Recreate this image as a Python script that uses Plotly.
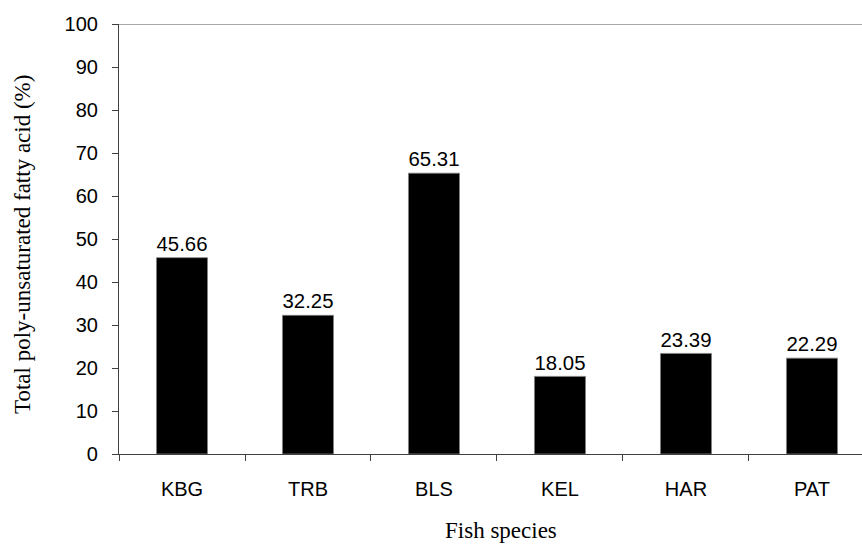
import plotly.graph_objects as go

species = ["KBG", "TRB", "BLS", "KEL", "HAR", "PAT"]
pufa = [45.66, 32.25, 65.31, 18.05, 23.39, 22.29]
y_ticks = [0, 10, 20, 30, 40, 50, 60, 70, 80, 90, 100]

SANS = "Liberation Sans, Arial"
SERIF = "Liberation Serif, Times New Roman"

fig = go.Figure()
fig.add_trace(go.Bar(
    x=species, y=pufa,
    width=0.405,
    marker=dict(color="black", line=dict(color="#808080", width=0.8)),
    text=[f"{v:.2f}" for v in pufa],
    textposition="outside",
    textfont=dict(family=SANS, size=21, color="black"),
    cliponaxis=False,
))

fig.add_shape(type="line", xref="paper", yref="y", x0=0, x1=1, y0=100, y1=100,
              line=dict(color="#a8a8a8", width=2))

fig.add_annotation(text="Fish species", xref="paper", yref="paper",
                   x=(501 - 119) / 743, y=(454 - 530) / 430,
                   xanchor="center", yanchor="middle", showarrow=False,
                   font=dict(family=SERIF, size=23, color="black"))
fig.add_annotation(text="Total poly-unsaturated fatty acid (%)", xref="paper", yref="paper",
                   x=(22 - 119) / 743, y=(454 - 245) / 430, textangle=-90,
                   xanchor="center", yanchor="middle", showarrow=False,
                   font=dict(family=SERIF, size=23, color="black"))

fig.update_layout(
    width=862, height=544,
    margin=dict(l=119, r=0, t=24, b=90),
    paper_bgcolor="white", plot_bgcolor="white",
    showlegend=False,
    xaxis=dict(
        type="category",
        range=[-0.5, 5.397],
        showline=True, linecolor="#404040", linewidth=1.2,
        ticks="outside", tickson="boundaries", ticklen=6, tickcolor="#404040",
        ticklabelstandoff=17,
        tickfont=dict(family=SANS, size=20, color="black"),
        showgrid=False,
    ),
    yaxis=dict(
        range=[0, 100],
        tickvals=y_ticks,
        showline=True, linecolor="#404040", linewidth=1.2,
        ticks="outside", ticklen=6, tickcolor="#404040",
        ticklabelstandoff=10,
        tickfont=dict(family=SANS, size=20, color="black"),
        showgrid=False, zeroline=False,
    ),
)

fig.write_html("out.html", config={"displayModeBar": False},
               post_script="document.body.style.margin='0';document.body.style.overflow='hidden';")
